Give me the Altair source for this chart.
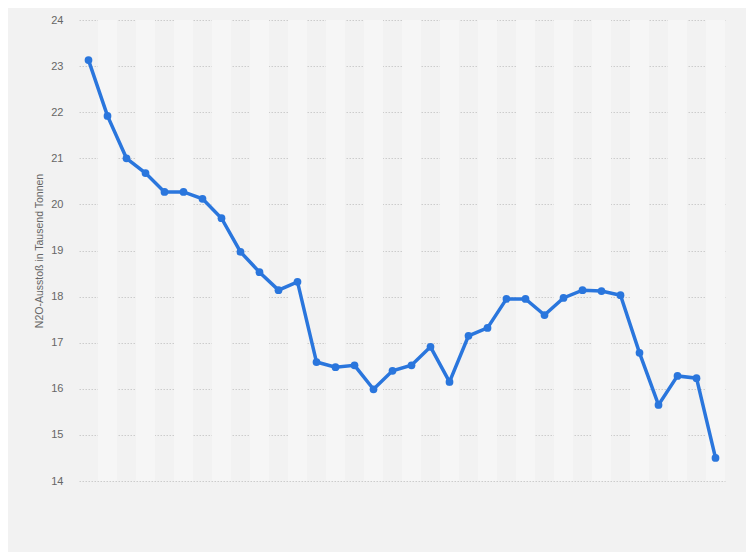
import altair as alt
import pandas as pd

values = [23.13, 21.92, 21.0, 20.68, 20.27, 20.27, 20.12, 19.70, 18.97, 18.53,
          18.14, 18.32, 16.58, 16.47, 16.51, 15.99, 16.39, 16.51, 16.91, 16.15,
          17.15, 17.32, 17.95, 17.95, 17.60, 17.97, 18.14, 18.12, 18.03, 16.78,
          15.65, 16.28, 16.23, 14.50]
y_ticks = [14, 15, 16, 17, 18, 19, 20, 21, 22, 23, 24]
y_title = "N2O-Ausstoß in Tausend Tonnen"

n = len(values)
df = pd.DataFrame({"i": list(range(n)), "v": values})
bands = pd.DataFrame({"x0": [i - 0.5 for i in range(1, n, 2)],
                      "x1": [i + 0.5 for i in range(1, n, 2)]})

xscale = alt.Scale(domain=[-0.5, n - 0.5], nice=False, zero=False)
yscale = alt.Scale(domain=[14, 24], nice=False, zero=False)

band_layer = alt.Chart(bands).mark_rect(color="#f6f6f6").encode(
    x=alt.X("x0:Q", scale=xscale, axis=None),
    x2="x1:Q",
    y=alt.value(0),
    y2=alt.value(461),
)

line = alt.Chart(df).mark_line(color="#2a76dd", strokeWidth=3.5).encode(
    x=alt.X("i:Q", scale=xscale, axis=None),
    y=alt.Y("v:Q", scale=yscale,
            axis=alt.Axis(values=y_ticks, title=y_title, grid=True,
                          gridColor="#cccccc", gridDash=[1.5, 1.5], gridWidth=1,
                          domain=False, ticks=False, labelPadding=16,
                          labelColor="#666666", labelFontSize=11,
                          labelFont="Liberation Sans",
                          titleColor="#666666", titleFontSize=10.5,
                          titleFont="Liberation Sans", titleFontWeight="normal",
                          titlePadding=6)),
)
points = alt.Chart(df).mark_circle(color="#2a76dd", size=60, opacity=1).encode(
    x=alt.X("i:Q", scale=xscale),
    y=alt.Y("v:Q", scale=yscale),
)

chart = alt.layer(band_layer, line, points).properties(
    width=646, height=461,
    background="#f2f2f2",
    padding={"left": 71, "top": 12, "right": 21, "bottom": 71},
    autosize=alt.AutoSizeParams(type="none"),
).configure_view(stroke=None, fill="#f2f2f2")

chart.save("out.html", embed_options={"renderer": "svg", "actions": False})
